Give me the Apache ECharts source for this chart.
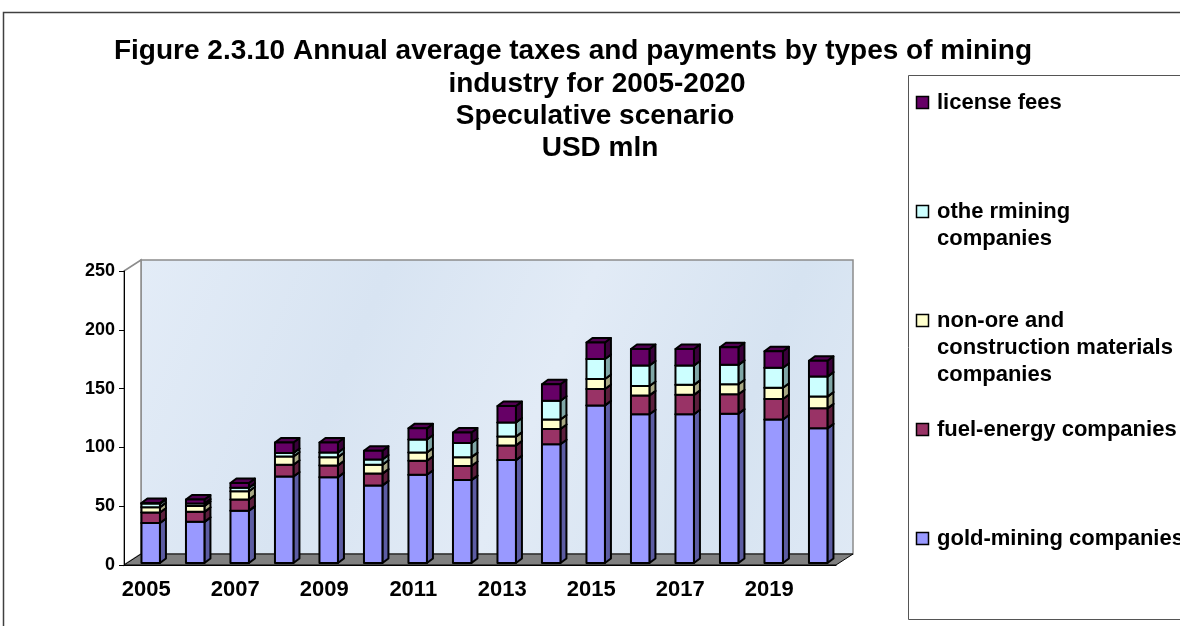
<!DOCTYPE html>
<html>
<head>
<meta charset="utf-8">
<script src="https://cdn.jsdelivr.net/npm/echarts@6/dist/echarts.min.js"></script>
<style>
  html, body { margin: 0; padding: 0; background: #ffffff; }
  #chart { width: 1180px; height: 626px; }
</style>
</head>
<body>
<div id="chart"></div>
<script>
// Annual average taxes and payments by mining industry type, USD mln
const years = ['2005', '2006', '2007', '2008', '2009', '2010', '2011', '2012',
               '2013', '2014', '2015', '2016', '2017', '2018', '2019', '2020'];
const goldMining   = [34, 35, 44.5, 73.5, 73, 66, 75, 70.5, 87.5, 101, 134, 126.5, 126.5, 127, 122, 114.5];
const fuelEnergy   = [9, 8.5, 9.5, 10, 10, 10, 12, 12, 12.5, 13, 14, 16, 16.5, 16.5, 17.5, 17];
const nonOre       = [4.5, 5, 7, 7, 7, 7.5, 7, 7.5, 7.5, 8, 8.5, 8, 8.5, 8.5, 9.5, 10];
const otherMining  = [3, 2, 3, 3, 4, 4.5, 11, 12, 12, 16, 17, 17.5, 16.5, 16.5, 17, 17];
const licenseFees  = [0.5, 3.5, 4, 9, 8.5, 7.5, 9.5, 9, 14, 14, 14, 14, 14, 15, 14, 13.5];

const seriesNames = ['gold-mining companies', 'fuel-energy companies',
                     'non-ore and construction materials companies',
                     'othe rmining companies', 'license fees'];
// legend text, wrapped the way the legend box shows it
const legendLabels = ['gold-mining companies', 'fuel-energy companies',
                      'non-ore and\nconstruction materials\ncompanies',
                      'othe rmining\ncompanies', 'license fees'];
const titleLines = ['Figure 2.3.10 Annual average taxes and payments by types of mining',
                    'industry for 2005-2020', 'Speculative scenario', 'USD mln'];

const FONT = "'Liberation Sans', Arial, sans-serif";

// face colours: front, right side, top
const palette = [
  { front: '#9999ff', side: '#5c5ca3', top: '#7a7acc' },
  { front: '#993366', side: '#5c1f3d', top: '#7a2952' },
  { front: '#ffffcc', side: '#a8a884', top: '#d6d6ab' },
  { front: '#ccffff', side: '#7fa6a6', top: '#93b8b8' },
  { front: '#660066', side: '#3a003a', top: '#520052' }
];

const allSeries = [goldMining, fuelEnergy, nonOre, otherMining, licenseFees];

// plot frame (front plane) and 3D depth of the walls
const G = { left: 124, top: 271, width: 712, height: 294 };
const DEPTH = [17, -11];

function segmentRenderer(col) {
  return function (params, api) {
    const idx = api.value(0);
    const lo = api.coord([idx, api.value(1)]);
    const hi = api.coord([idx, api.value(2)]);
    const band = api.size([1, 0])[0];
    const w = band * 0.415;
    const ox = band * 0.1, oy = -2;
    const dx = 6, dy = -4.5;
    const x0 = lo[0] - w / 2 + ox, x1 = x0 + w;
    const yb = lo[1] + oy, yt = hi[1] + oy;
    const line = { stroke: '#000', lineWidth: 2, lineJoin: 'round' };
    return {
      type: 'group',
      children: [
        { type: 'polygon', shape: { points: [[x1, yb], [x1 + dx, yb + dy], [x1 + dx, yt + dy], [x1, yt]] },
          style: Object.assign({ fill: col.side }, line) },
        { type: 'polygon', shape: { points: [[x0, yt], [x1, yt], [x1 + dx, yt + dy], [x0 + dx, yt + dy]] },
          style: Object.assign({ fill: col.top }, line) },
        { type: 'rect', shape: { x: x0, y: yt, width: w, height: yb - yt },
          style: Object.assign({ fill: col.front }, line) }
      ]
    };
  };
}

// stack the series
const base = years.map(() => 0);
const series = allSeries.map((vals, s) => {
  const data = vals.map((v, i) => {
    const item = [i, base[i], base[i] + v];
    base[i] += v;
    return item;
  });
  return {
    name: seriesNames[s],
    type: 'custom',
    renderItem: segmentRenderer(palette[s]),
    encode: { x: 0, y: [1, 2] },
    data: data,
    z: 2
  };
});

// walls, floor, frames, title and legend
const L = G.left, T = G.top, W = G.width, H = G.height, dX = DEPTH[0], dY = DEPTH[1];
const graphics = [
  { type: 'rect', z: -5, shape: { x: 3.5, y: 12.5, width: 1200, height: 700 },
    style: { fill: '#ffffff', stroke: '#404040', lineWidth: 1.5 } },
  { type: 'rect', z: -4, shape: { x: L + dX, y: T + dY, width: W, height: H },
    style: {
      fill: { type: 'linear', x: 0, y: 0, x2: 1, y2: 1, colorStops: [
        { offset: 0, color: '#e3ecf7' }, { offset: 0.3, color: '#d8e4f2' },
        { offset: 0.55, color: '#e2ebf6' }, { offset: 0.8, color: '#d6e3f1' },
        { offset: 1, color: '#dfe9f5' }] },
      stroke: '#8c8c8c', lineWidth: 1.5 } },
  { type: 'polygon', z: -4, shape: { points: [[L, T], [L + dX, T + dY], [L + dX, T + H + dY], [L, T + H]] },
    style: { fill: '#ffffff', stroke: '#8c8c8c', lineWidth: 1.5 } },
  { type: 'polygon', z: -3, shape: { points: [[L, T + H], [L + W, T + H], [L + W + dX, T + H + dY], [L + dX, T + H + dY]] },
    style: { fill: '#808080', stroke: '#000', lineWidth: 1 } },
  { type: 'rect', z: -2, shape: { x: 908.5, y: 75.5, width: 300, height: 544 },
    style: { fill: '#ffffff', stroke: '#555555', lineWidth: 1 } }
];

const titleCenters = [573, 597, 595, 600];
const titleY = [51, 84, 116, 148];
titleLines.forEach((t, i) => {
  graphics.push({ type: 'text', z: 10, x: titleCenters[i], y: titleY[i],
    style: { text: t, font: 'bold 28px ' + FONT, fill: '#000', align: 'center', verticalAlign: 'middle' } });
});

const legendY = [539, 430, 321, 212, 103];
legendLabels.forEach((t, s) => {
  graphics.push({ type: 'rect', z: 10, shape: { x: 916.5, y: legendY[s] - 6.5, width: 12, height: 12 },
    style: { fill: palette[s].front, stroke: '#000', lineWidth: 1.5 } });
  graphics.push({ type: 'text', z: 10, x: 937, y: legendY[s] - 13.5,
    style: { text: t, font: 'bold 22px ' + FONT, fill: '#000', align: 'left', verticalAlign: 'top', lineHeight: 27 } });
});

const chart = echarts.init(document.getElementById('chart'), null, { renderer: 'canvas' });
chart.setOption({
  animation: false,
  backgroundColor: '#ffffff',
  grid: { left: G.left, top: G.top, width: G.width, height: G.height },
  xAxis: {
    type: 'category',
    data: years,
    boundaryGap: true,
    axisLine: { lineStyle: { color: '#000', width: 1 } },
    axisTick: { interval: 0, length: 5, lineStyle: { color: '#000' } },
    axisLabel: { interval: 1, margin: 14, color: '#000', fontFamily: FONT, fontWeight: 'bold', fontSize: 22 },
    splitLine: { show: false }
  },
  yAxis: {
    type: 'value',
    min: 0, max: 250, interval: 50,
    axisLine: { show: true, lineStyle: { color: '#000', width: 1 } },
    axisTick: { show: true, length: 5, lineStyle: { color: '#000' } },
    axisLabel: { margin: 9, color: '#000', fontFamily: FONT, fontWeight: 'bold', fontSize: 18 },
    splitLine: { show: false }
  },
  graphic: graphics,
  series: series
});
</script>
</body>
</html>
